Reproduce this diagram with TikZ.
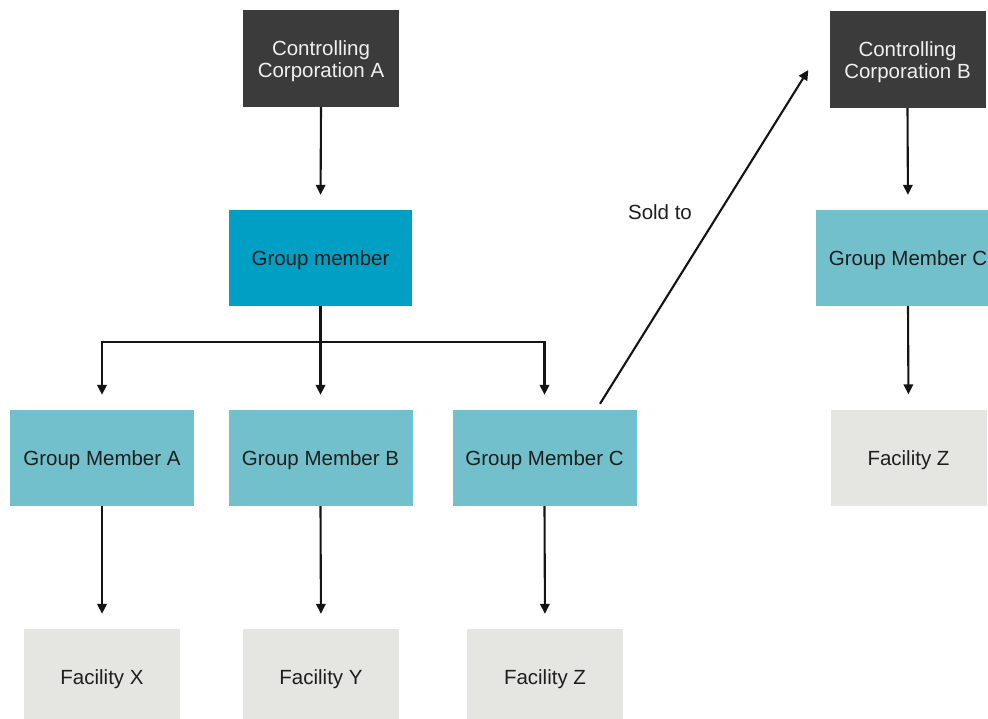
\documentclass[tikz,border=0pt]{standalone}
\usepackage{fontspec}
\setmainfont{Liberation Sans}
\usetikzlibrary{arrows.meta,calc}
\definecolor{ctrlgray}{HTML}{3B3B3B}
\definecolor{grpblue}{HTML}{009FC3}
\definecolor{memteal}{HTML}{72C0CB}
\definecolor{facgray}{HTML}{E5E5E2}
\definecolor{inkdark}{HTML}{1E1E1E}
\definecolor{inklight}{HTML}{F0F0F0}

\begin{document}
\begin{tikzpicture}[x=1pt,y=-1pt,
  txt/.style={inner sep=0pt, align=center, text=inkdark, yshift=-2.5pt,
    font=\fontsize{20.5}{22}\selectfont},
  boxbase/.style={inner sep=0pt, minimum height=96pt},
  corpbox/.style={boxbase, fill=ctrlgray, minimum width=156pt, minimum height=97pt,
    label={[txt, text=inklight]center:#1}},
  groupbox/.style={boxbase, fill=grpblue, minimum width=183pt, label={[txt]center:#1}},
  memberbox/.style={boxbase, fill=memteal, minimum width=184pt, label={[txt]center:#1}},
  facbox/.style={boxbase, fill=facgray, minimum width=156pt, label={[txt]center:#1}},
  plain/.style={draw=black!92, line width=2.1pt},
  tip/.style={-{Triangle[length=10pt,width=9.5pt]}},
  link/.style={plain, tip, shorten >=15pt}
]
\useasboundingbox (0,0) rectangle (988,719);
\clip (0,0) rectangle (988,719);

% left group
\node[corpbox={Controlling\\Corporation A}] (cca) at (321,58.5) {};
\node[groupbox={Group member}]   (gm)  at (320.5,258) {};
\node[memberbox={Group Member A}] (gma) at (102,458)   {};
\node[memberbox={Group Member B}] (gmb) at (320.5,458) {};
\node[memberbox={Group Member C}] (gmc) at (544.5,458) {};
\node[facbox={Facility X}] (fx) at (102,677) {};
\node[facbox={Facility Y}] (fy) at (321,677) {};
\node[facbox={Facility Z}] (fz) at (545,677) {};

% right group
\node[corpbox={Controlling\\Corporation B}] (ccb) at (907.5,59.5) {};
\node[memberbox={Group Member C}] (gmc2) at (908,258)     {};
\node[facbox={Facility Z}]        (fz2)  at (908.5,457.5) {};

% connectors, left group
\draw[link] (cca.south) -- (gm.north);
\coordinate (bus) at ($(gm.south)+(0,36)$);
\draw[plain] (gm.south) -- (bus);
\draw[link] (bus) -| (gma.north);
\draw[link] (bus) -| (gmc.north);
\draw[link] (gm.south) -- (gmb.north);
\draw[link] (gma.south) -- (fx.north);
\draw[link] (gmb.south) -- (fy.north);
\draw[link] (gmc.south) -- (fz.north);

% connectors, right group
\draw[link] (ccb.south) -- (gmc2.north);
\draw[link] (gmc2.south) -- (fz2.north);

% sale
\coordinate (saleA) at ($(gmc.north)+(55.5,-6)$);
\coordinate (saleB) at ($(ccb.west)+(-21,10.5)$);
\draw[plain, tip] (saleA) -- (saleB);
\node[txt, yshift=2.5pt] (sold) at (660,212) {Sold to};
\end{tikzpicture}
\end{document}
